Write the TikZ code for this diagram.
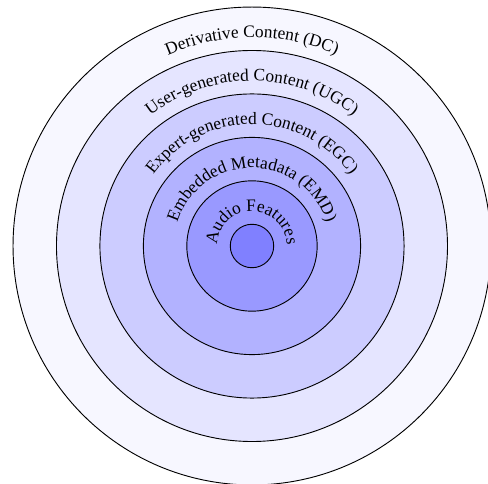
\documentclass[tikz,border=0pt]{standalone}
\usepackage{fontspec}
\setmainfont{Liberation Serif}
\usetikzlibrary{decorations.text}
\tikzset{
  ring/.style={draw=black, line width=0.6pt},
  arclabel/.style={decorate, decoration={text along path, text align=center,
    text={|\fontsize{11.4}{14}\selectfont|#1}}}
}
\begin{document}
\begin{tikzpicture}
\useasboundingbox (-5.800,-5.478) rectangle (5.432,5.662);
\draw[ring, fill=blue!3]  (0,0) circle (5.5);
\draw[ring, fill=blue!10] (0,0) circle (4.5);
\draw[ring, fill=blue!20] (0,0) circle (3.5);
\draw[ring, fill=blue!30] (0,0) circle (2.5);
\draw[ring, fill=blue!40] (0,0) circle (1.5);
\draw[ring, fill=blue!50] (0,0) circle (0.5);
\path[arclabel={Derivative Content (DC)}] (180:4.8) arc[start angle=180, end angle=0, radius=4.8];
\path[arclabel={User-generated Content (UGC)}] (180:3.8) arc[start angle=180, end angle=0, radius=3.8];
\path[arclabel={Expert-generated Content (EGC)}] (180:2.8) arc[start angle=180, end angle=0, radius=2.8];
\path[arclabel={Embedded Metadata (EMD)}] (180:1.8) arc[start angle=180, end angle=0, radius=1.8];
\path[arclabel={Audio Features}] (180:0.8) arc[start angle=180, end angle=0, radius=0.8];
\end{tikzpicture}
\end{document}
